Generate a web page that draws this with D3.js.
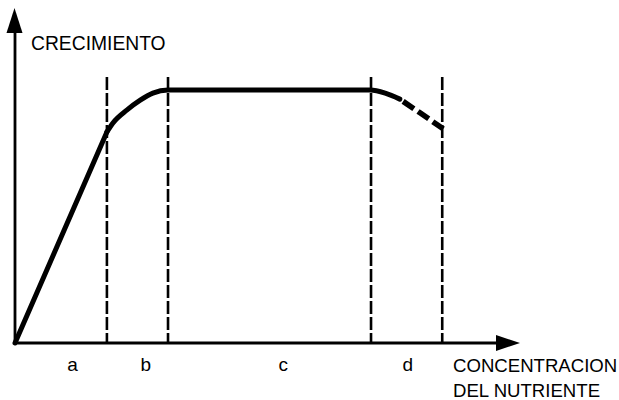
<!DOCTYPE html>
<html>
<head>
<meta charset="utf-8">
<script src="https://cdn.jsdelivr.net/npm/d3@7"></script>
<style>
  html, body { margin: 0; padding: 0; background: #fff; }
  svg { display: block; }
  text { font-family: "Liberation Sans", Arial, Helvetica, sans-serif; fill: #000; }
</style>
</head>
<body>
<svg id="chart" width="619" height="400"></svg>
<script>
// ---- data (abstract units: concentration 0..10, growth 0..10) ----
const linearX = [0, 1.82];
const linearY = [0, 6.30];
const solidX = [1.82, 1.94, 2.22, 2.48, 2.73, 3.03, 7.03, 7.33, 7.62];
const solidY = [6.30, 6.57, 6.96, 7.25, 7.46, 7.55, 7.55, 7.46, 7.28];
const dashedX = [7.62, 8.02, 8.48];
const dashedY = [7.28, 6.87, 6.39];
const boundaries = [1.82, 3.03, 7.05, 8.46];
const boundaryTop = 7.94;
const phaseLabels = ["a", "b", "c", "d"];
const phaseLabelX = [1.14, 2.59, 5.31, 7.78];
const yAxisTitle = "CRECIMIENTO";
const xAxisTitle = ["CONCENTRACION", "DEL NUTRIENTE"];

// ---- scales ----
const x = d3.scaleLinear().domain([0, 10]).range([15, 520]);
const y = d3.scaleLinear().domain([0, 10]).range([343, 8]);

const svg = d3.select("#chart");

// axes with arrowheads
const x0 = x(0), y0 = y(0);
const xEnd = x(10), yEnd = y(10);
svg.append("line").attr("x1", x0).attr("y1", y0).attr("x2", xEnd - 20).attr("y2", y0)
  .attr("stroke", "#000").attr("stroke-width", 2.8);
svg.append("path")
  .attr("d", `M${xEnd},${y0} L${xEnd - 24},${y0 - 8} L${xEnd - 24},${y0 + 8} Z`)
  .attr("fill", "#000");
svg.append("line").attr("x1", x0).attr("y1", y0 + 1.4).attr("x2", x0).attr("y2", yEnd + 20)
  .attr("stroke", "#000").attr("stroke-width", 2.8);
svg.append("path")
  .attr("d", `M${x0 - 0.5},${yEnd} L${x0 - 8.5},${yEnd + 25} L${x0 + 7.5},${yEnd + 25} Z`)
  .attr("fill", "#000");

// vertical dashed phase boundaries
svg.selectAll("line.boundary").data(boundaries).enter().append("line")
  .attr("class", "boundary")
  .attr("x1", d => x(d)).attr("x2", d => x(d))
  .attr("y1", y(boundaryTop)).attr("y2", y0)
  .attr("stroke", "#000").attr("stroke-width", 2.6)
  .attr("stroke-dasharray", "13,3");

// growth curve
const straight = d3.line().x(d => x(d[0])).y(d => y(d[1]));
const smooth = d3.line().x(d => x(d[0])).y(d => y(d[1])).curve(d3.curveMonotoneX);
const linearPts = linearX.map((v, i) => [v, linearY[i]]);
const solidPts = solidX.map((v, i) => [v, solidY[i]]);
const dashedPts = dashedX.map((v, i) => [v, dashedY[i]]);

svg.append("path").datum(linearPts).attr("d", straight)
  .attr("fill", "none").attr("stroke", "#000").attr("stroke-width", 5)
  .attr("stroke-linecap", "round");
svg.append("path").datum(solidPts).attr("d", smooth)
  .attr("fill", "none").attr("stroke", "#000").attr("stroke-width", 5)
  .attr("stroke-linejoin", "round").attr("stroke-linecap", "round");
svg.append("path").datum(dashedPts).attr("d", straight.curve(d3.curveMonotoneX))
  .attr("fill", "none").attr("stroke", "#000").attr("stroke-width", 5.5)
  .attr("stroke-dasharray", "0,4,13,5,13,5,12");

// phase labels
svg.selectAll("text.phase").data(phaseLabels).enter().append("text")
  .attr("class", "phase")
  .attr("x", (d, i) => x(phaseLabelX[i])).attr("y", 371)
  .attr("text-anchor", "middle").attr("font-size", 19)
  .text(d => d);

// axis titles
svg.append("text").attr("x", 31).attr("y", 50).attr("font-size", 19.3).text(yAxisTitle);
svg.selectAll("text.xt").data(xAxisTitle).enter().append("text")
  .attr("class", "xt")
  .attr("x", 453).attr("y", (d, i) => 372 + i * 25)
  .attr("font-size", 18.6)
  .text(d => d);
</script>
</body>
</html>
